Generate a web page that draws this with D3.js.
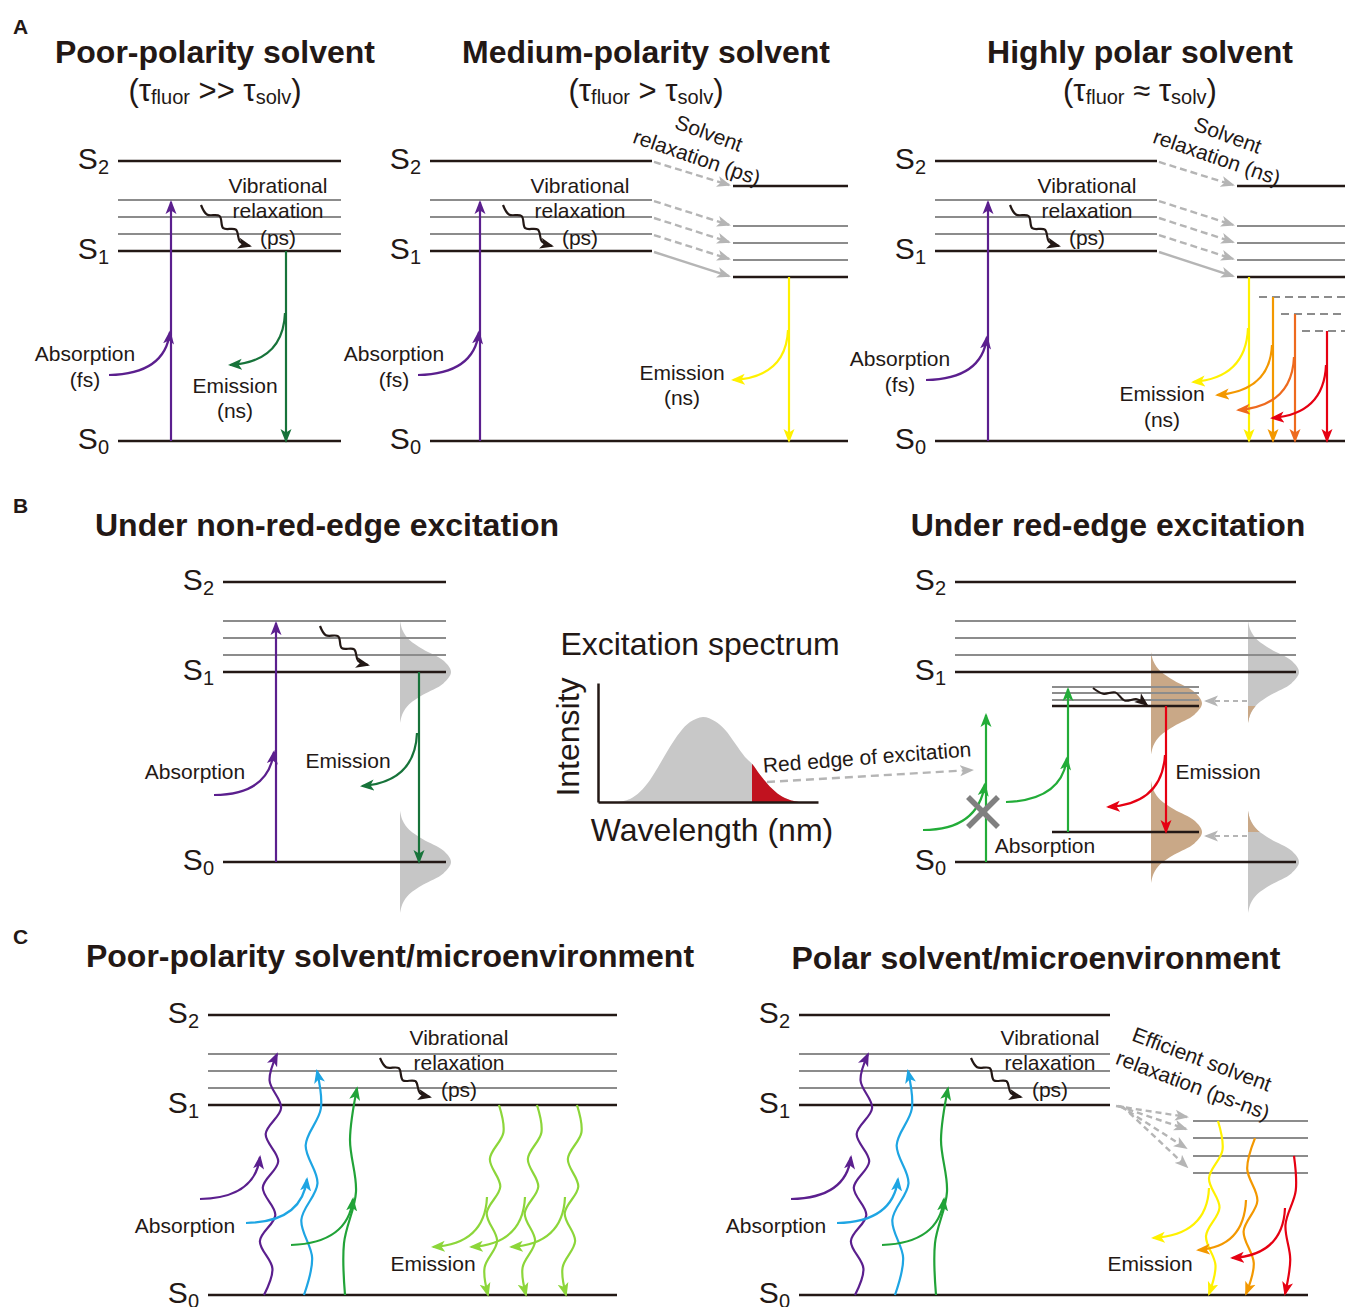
<!DOCTYPE html>
<html>
<head>
<meta charset="utf-8">
<script src="https://cdn.jsdelivr.net/npm/d3@7"></script>
<style>
  body { margin: 0; background: #fff; }
  svg { display: block; font-family: "Liberation Sans", Arial, Helvetica, sans-serif; }
</style>
</head>
<body>
<script>
// ---- energies (S0 = 0, S1 = 1) ----
const levelNames = ['0', '1', '2']
const levelEnergy = [0, 1, 1.474]
const vibEnergy = [1.089, 1.179, 1.268]
// solvent relaxed manifold, panel A (S1', vib', vib', vib', S2')
const relaxedEnergy = [0.863, 0.953, 1.042, 1.132, 1.342]
// emitting states in highly polar solvent
const polarEmitEnergy = [0.863, 0.758, 0.668, 0.579]
const polarEmitColors = ['#fff100', '#f39800', '#ee6a1e', '#e60012']
// red edge subpopulation (panel B)
const redEdgeUpper = [0.821, 0.853, 0.889, 0.921]
const redEdgeLower = 0.158
const redEdgeBlocked = 0.774
const brownCenters = [0.835, 0.158]
// panel C
const absColorsC = ['#5b1f8e', '#1ea5e3', '#21a338']
const absTargetC = [1.268, 1.179, 1.089]
const relaxedC = [0.916, 0.826, 0.732, 0.642]
const emitC = [0.916, 0.826, 0.732]
const emitCColors = ['#fff100', '#f39800', '#e60012']

// excitation spectrum (arbitrary wavelength units)
const wavelength = [20, 32, 42, 52, 62, 72, 82, 92, 105, 117, 127, 137, 147, 154, 162, 172, 182, 192, 202]
const intensity = [0, 0.035, 0.12, 0.26, 0.45, 0.65, 0.82, 0.94, 1, 0.95, 0.85, 0.69, 0.53, 0.45, 0.32, 0.18, 0.08, 0.025, 0]
const redEdgeFrom = 154

// population distribution profile
const distOffset = [-0.27, -0.22, -0.17, -0.12, -0.06, 0, 0.06, 0.12, 0.17, 0.22, 0.27]
const distDensity = [0, 0.05, 0.18, 0.45, 0.85, 1, 0.85, 0.45, 0.18, 0.05, 0]

// wiggles
const relaxWave = [0, 3.5, -3.5, 3.5, -3.5, 3, 0]
const absWaveC = [[0, 7, -7, 7, -7, 7, -7, 7, -6, 0], [0, 6, -7, 7, -7, 6, 0], [0, -4, 5, -4, 0]]
const emitWaveC = [0, -6, 6, -6, 6, -6, 5, 0]
const emitWaveC2 = [[0, -6, 6, -6, 6, -5, 0], [0, 6, -6, 6, -6, 0], [0, -4, 4, -3, 0]]

const W = 1345, H = 1307
const ink = '#231815'
const grey = '#8c8c8c'
const lightGrey = '#b5b5b5'
const purple = '#5b1f8e'
const LBL = 21
const TTL = 32

const svg = d3.select('body').append('svg').attr('width', W).attr('height', H)
svg.append('rect').attr('width', W).attr('height', H).attr('fill', '#fff')
const defs = svg.append('defs')

function markerFor(color) {
  const id = 'ah' + color.replace(/[^0-9a-z]/gi, '')
  if (defs.select('#' + id).empty()) {
    defs.append('marker').attr('id', id)
      .attr('viewBox', '0 -6 14 12').attr('refX', 12).attr('refY', 0)
      .attr('markerWidth', 14).attr('markerHeight', 12)
      .attr('markerUnits', 'userSpaceOnUse').attr('orient', 'auto')
      .append('path').attr('d', 'M0,-5.5L14,0L0,5.5L3.5,0Z').attr('fill', color)
  }
  return `url(#${id})`
}

function arrow(g, x1, y1, x2, y2, color, w = 2.2, dash = null) {
  g.append('line').attr('x1', x1).attr('y1', y1).attr('x2', x2).attr('y2', y2)
    .attr('stroke', color).attr('stroke-width', w).attr('stroke-dasharray', dash)
    .attr('marker-end', markerFor(color))
}

function curved(g, p0, c, p1, color, w = 2.2) {
  g.append('path').attr('d', `M${p0}Q${c} ${p1}`)
    .attr('fill', 'none').attr('stroke', color).attr('stroke-width', w)
    .attr('marker-end', markerFor(color))
}

function wavy(g, p0, p1, offs, color, w = 2.2) {
  const dx = p1[0] - p0[0], dy = p1[1] - p0[1], len = Math.hypot(dx, dy)
  const nx = -dy / len, ny = dx / len
  const pts = offs.map((o, i) => {
    const t = i / (offs.length - 1)
    return [p0[0] + dx * t + nx * o, p0[1] + dy * t + ny * o]
  })
  g.append('path').attr('d', d3.line().curve(d3.curveCatmullRom)(pts))
    .attr('fill', 'none').attr('stroke', color).attr('stroke-width', w)
    .attr('marker-end', markerFor(color))
}

function level(g, x1, x2, y, main, dash = null) {
  g.append('line').attr('x1', x1).attr('x2', x2).attr('y1', y).attr('y2', y)
    .attr('stroke', main ? ink : grey).attr('stroke-width', main ? 2.6 : 2)
    .attr('stroke-dasharray', dash)
}

function sLabel(g, x, y, n) {
  const t = g.append('text').attr('x', x).attr('y', y + 8).attr('text-anchor', 'end')
    .attr('font-size', 30).attr('fill', ink)
  t.append('tspan').text('S')
  t.append('tspan').attr('font-size', 20).attr('dy', 5).text(n)
}

// y is the visual centre of the text
function txt(g, x, y, s, size = LBL, opts = {}) {
  return g.append('text').attr('x', x).attr('y', y).attr('font-size', size)
    .attr('dominant-baseline', 'central')
    .attr('text-anchor', opts.anchor || 'middle').attr('fill', ink)
    .attr('font-weight', opts.bold ? 'bold' : null)
    .attr('transform', opts.rot ? `rotate(${opts.rot},${x},${y})` : null)
    .text(s)
}

// standard stack of levels with labels
function ladder(g, y, x0, x1, s0End, labelX) {
  level(g, x0, x1, y(levelEnergy[2]), true)
  vibEnergy.forEach(e => level(g, x0, x1, y(e), false))
  level(g, x0, x1, y(levelEnergy[1]), true)
  level(g, x0, s0End, y(levelEnergy[0]), true)
  levelNames.forEach((n, i) => sLabel(g, labelX, y(levelEnergy[i]), n))
}

function vibText(g, cx, top) {
  txt(g, cx, top, 'Vibrational')
  txt(g, cx, top + 25, 'relaxation')
  txt(g, cx, top + 52, '(ps)')
}

function distribution(g, xLeft, y, center, fill, clipId) {
  const xw = d3.scaleLinear().domain([0, 1]).range([xLeft, xLeft + 51])
  const area = d3.area().curve(d3.curveCatmullRom)
    .y((d, i) => y(center + distOffset[i]))
    .x0(xLeft)
    .x1(d => xw(d))
  g.append('path').attr('d', area(distDensity)).attr('fill', fill)
    .attr('clip-path', clipId ? `url(#${clipId})` : null)
}

// ---- panel letters ----
txt(svg, 13, 26, 'A', 21, { bold: true, anchor: 'start' })
txt(svg, 13, 505, 'B', 21, { bold: true, anchor: 'start' })
txt(svg, 13, 936, 'C', 21, { bold: true, anchor: 'start' })

// ================= PANEL A =================
const yA = d3.scaleLinear().domain([0, 1]).range([441, 251])
const gA = svg.append('g')
const aTitles = ['Poor-polarity solvent', 'Medium-polarity solvent', 'Highly polar solvent']
const aRelations = [' >> ', ' > ', ' ≈ ']
const aCols = [
  { x0: 118, x1: 341, s0: 341, lab: 109, abs: 171, cx: 215, vib: 278, absTxt: 85, absY: 353 },
  { x0: 430, x1: 652, s0: 848, lab: 421, abs: 480, cx: 646, vib: 580, absTxt: 394, absY: 353, rx0: 733, rx1: 848 },
  { x0: 935, x1: 1157, s0: 1345, lab: 926, abs: 988, cx: 1140, vib: 1087, absTxt: 900, absY: 358, rx0: 1237, rx1: 1345 }
]

aCols.forEach((c, k) => {
  txt(gA, c.cx, 52, aTitles[k], TTL, { bold: true })
  const sub = gA.append('text').attr('x', c.cx).attr('y', 101).attr('text-anchor', 'middle')
    .attr('font-size', 31).attr('fill', ink)
  sub.append('tspan').text('(τ')
  sub.append('tspan').attr('font-size', 20).attr('dy', 3).text('fluor')
  sub.append('tspan').attr('dy', -3).text(aRelations[k] + 'τ')
  sub.append('tspan').attr('font-size', 20).attr('dy', 3).text('solv')
  sub.append('tspan').attr('dy', -3).text(')')

  ladder(gA, yA, c.x0, c.x1, c.s0, c.lab)
  vibText(gA, c.vib, 185)
  wavy(gA, [c.vib - 77, 205], [c.vib - 28, 246], relaxWave, ink, 2.2)

  // absorption
  arrow(gA, c.abs, yA(0), c.abs, yA(vibEnergy[2]) + 2, purple)
  curved(gA, [c.abs - 62, c.absY + 22], [c.abs - 6, c.absY + 21], [c.abs - 1, c.absY - 21], purple)
  txt(gA, c.absTxt, c.absY, 'Absorption')
  txt(gA, c.absTxt, c.absY + 26, '(fs)')

  if (c.rx0) {
    // solvent-relaxed manifold
    relaxedEnergy.forEach((e, i) => level(gA, c.rx0, c.rx1, yA(e), i === 0 || i === 4))
    const orig = [levelEnergy[1], ...vibEnergy, levelEnergy[2]]
    orig.forEach((e, i) => {
      arrow(gA, c.x1 + 2, yA(e) + 1, c.rx0 - 4, yA(relaxedEnergy[i]) - 1, lightGrey, 2.4, i === 0 ? null : '7,4')
    })
  }
})

// A1 emission
const green = '#17733a'
arrow(gA, 286, yA(1), 286, yA(0), green)
curved(gA, [285, 313], [283, 362], [230, 365], green)
txt(gA, 235, 385, 'Emission')
txt(gA, 235, 410, '(ns)')

// A2 emission + solvent relaxation text
arrow(gA, 789, yA(relaxedEnergy[0]), 789, yA(0), '#fff100')
curved(gA, [788, 330], [786, 377], [733, 380], '#fff100')
txt(gA, 682, 372, 'Emission')
txt(gA, 682, 397, '(ns)')
txt(gA, 709, 133, 'Solvent', LBL, { rot: 20 })
txt(gA, 697, 157, 'relaxation (ps)', LBL, { rot: 19 })

// A3 emission cascade
const a3x = [1249, 1273, 1295, 1327]
const a3dash = [null, 1259, 1281, 1302]
const a3curve = [[328, 1193, 382], [345, 1217, 395], [357, 1238, 410], [365, 1272, 418]]
polarEmitEnergy.forEach((e, i) => {
  if (a3dash[i]) level(gA, a3dash[i], 1345, yA(e), false, '8,5')
})
polarEmitEnergy.forEach((e, i) => {
  const col = polarEmitColors[i]
  arrow(gA, a3x[i], yA(e), a3x[i], yA(0), col)
  const [cy0, ex, ey] = a3curve[i]
  curved(gA, [a3x[i] - 1, cy0], [a3x[i] - 3, ey - 4], [ex, ey], col)
})
txt(gA, 1162, 393, 'Emission')
txt(gA, 1162, 419, '(ns)')
txt(gA, 1228, 135, 'Solvent', LBL, { rot: 20 })
txt(gA, 1217, 157, 'relaxation (ns)', LBL, { rot: 19 })

// ================= PANEL B =================
const yB = d3.scaleLinear().domain([0, 1]).range([862, 672])
const gB = svg.append('g')
const brown = '#c9a887'
const distGrey = '#c6c6c6'

// B left
txt(gB, 327, 525, 'Under non-red-edge excitation', TTL, { bold: true })
distribution(gB, 400, yB, levelEnergy[1], distGrey)
distribution(gB, 400, yB, levelEnergy[0], distGrey)
ladder(gB, yB, 223, 446, 446, 214)
arrow(gB, 276, yB(0), 276, yB(vibEnergy[2]) + 2, purple)
curved(gB, [214, 795], [268, 795], [274, 752], purple)
txt(gB, 195, 771, 'Absorption')
wavy(gB, [320, 626], [368, 665], relaxWave, ink, 2.2)
arrow(gB, 419, yB(1), 419, yB(0), green)
curved(gB, [417, 733], [415, 782], [362, 786], green)
txt(gB, 348, 760, 'Emission')

// B middle: excitation spectrum
const xS = d3.scaleLinear().domain([0, 220]).range([598, 818])
const yS = d3.scaleLinear().domain([0, 1.4]).range([802, 683])
defs.append('clipPath').attr('id', 'redclip').append('rect')
  .attr('x', xS(redEdgeFrom)).attr('y', 600).attr('width', 200).attr('height', 250)
const specArea = d3.area().curve(d3.curveCatmullRom)
  .x((d, i) => xS(wavelength[i])).y0(yS(0)).y1(d => yS(d))
gB.append('path').attr('d', specArea(intensity)).attr('fill', '#c8c8c8')
gB.append('path').attr('d', specArea(intensity)).attr('fill', '#c1121f').attr('clip-path', 'url(#redclip)')
gB.append('g').attr('transform', `translate(0,${yS(0)})`)
  .call(d3.axisBottom(xS).tickValues([]).tickSizeOuter(0))
  .call(a => a.select('.domain').attr('stroke', ink).attr('stroke-width', 2.5))
gB.append('g').attr('transform', `translate(${xS(0)},0)`)
  .call(d3.axisLeft(yS).tickValues([]).tickSizeOuter(0))
  .call(a => a.select('.domain').attr('stroke', ink).attr('stroke-width', 2.5))
txt(gB, 700, 644, 'Excitation spectrum', 32)
txt(gB, 712, 830, 'Wavelength (nm)', 32)
txt(gB, 568, 737, 'Intensity', 32, { rot: -90 })
txt(gB, 867, 757, 'Red edge of excitation', 21, { rot: -4.5 })
arrow(gB, 767, 782, 972, 770, lightGrey, 2.4, '8,5')

// B right
txt(gB, 1108, 525, 'Under red-edge excitation', TTL, { bold: true })
defs.append('clipPath').attr('id', 'tailUp').append('rect')
  .attr('x', 1200).attr('y', yB(redEdgeUpper[0])).attr('width', 120).attr('height', 60)
defs.append('clipPath').attr('id', 'tailLow').append('rect')
  .attr('x', 1200).attr('y', 790).attr('width', 120).attr('height', yB(redEdgeLower) - 790)
distribution(gB, 1248, yB, levelEnergy[1], distGrey)
distribution(gB, 1248, yB, levelEnergy[1], brown, 'tailUp')
distribution(gB, 1248, yB, levelEnergy[0], distGrey)
distribution(gB, 1248, yB, levelEnergy[0], brown, 'tailLow')
distribution(gB, 1151, yB, brownCenters[0], brown)
distribution(gB, 1151, yB, brownCenters[1], brown)
ladder(gB, yB, 955, 1296, 1296, 946)
redEdgeUpper.forEach((e, i) => level(gB, 1052, 1199, yB(e), i === 0))
level(gB, 1052, 1199, yB(redEdgeLower), true)
arrow(gB, 1247, yB(redEdgeUpper[0]) - 5, 1206, yB(redEdgeUpper[0]) - 5, lightGrey, 1.8, '5,4')
arrow(gB, 1247, yB(redEdgeLower) + 4, 1206, yB(redEdgeLower) + 4, lightGrey, 1.8, '5,4')

const green2 = '#22ac38'
arrow(gB, 986, yB(0), 986, yB(redEdgeBlocked), green2)
curved(gB, [923, 830], [978, 830], [985, 784], green2)
gB.append('line').attr('x1', 968).attr('y1', 797).attr('x2', 998).attr('y2', 827)
  .attr('stroke', '#808080').attr('stroke-width', 5.5)
gB.append('line').attr('x1', 998).attr('y1', 797).attr('x2', 968).attr('y2', 827)
  .attr('stroke', '#808080').attr('stroke-width', 5.5)
arrow(gB, 1068, yB(redEdgeLower), 1068, yB(redEdgeUpper[3]) + 2, green2)
curved(gB, [1006, 802], [1062, 800], [1067, 758], green2)
wavy(gB, [1093, 688], [1147, 705], [0, 2.5, -2.5, 2.5, -2.5, 0], ink, 2)
arrow(gB, 1166, yB(redEdgeUpper[0]), 1166, yB(redEdgeLower), '#e60012')
curved(gB, [1165, 755], [1162, 804], [1108, 807], '#e60012')
txt(gB, 1218, 771, 'Emission')
txt(gB, 1045, 845, 'Absorption')

// ================= PANEL C =================
const yC = d3.scaleLinear().domain([0, 1]).range([1295, 1105])
const gC = svg.append('g')
txt(gC, 390, 956, 'Poor-polarity solvent/microenvironment', TTL, { bold: true })
txt(gC, 1036, 958, 'Polar solvent/microenvironment', TTL, { bold: true })

const absBaseC = [264, 304, 345]
const absTipDx = [13, 13, 12]
const absCurveC = [[[200, 1199], [255, 1198], [260, 1157]], [[246, 1223], [302, 1222], [307, 1179]], [[291, 1245], [348, 1243], [353, 1199]]]

;[0, 591].forEach(off => {
  ladder(gC, yC, 208 + off, off ? 1110 : 617, off ? 1308 : 617, 199 + off)
  vibText(gC, 459 + off, 1037)
  wavy(gC, [380 + off, 1058], [430 + off, 1097], relaxWave, ink, 2.2)
  absColorsC.forEach((col, i) => {
    wavy(gC, [absBaseC[i] + off, yC(0)], [absBaseC[i] + absTipDx[i] + off, yC(absTargetC[i])], absWaveC[i], col)
    const [p0, cc, p1] = absCurveC[i]
    curved(gC, [p0[0] + off, p0[1]], [cc[0] + off, cc[1]], [p1[0] + off, p1[1]], col)
  })
  txt(gC, 185 + off, 1225, 'Absorption')
})

// C left emission
const limeGreen = '#8cd63a'
const emitTopC = [499, 537, 577]
emitTopC.forEach((x, i) => {
  wavy(gC, [x, yC(1)], [x - 11, yC(0)], emitWaveC, limeGreen)
  curved(gC, [x - 12, 1197], [x - 14, 1244], [x - 66, 1247], limeGreen)
})
txt(gC, 433, 1263, 'Emission')

// C right relaxation + emission
relaxedC.forEach(e => level(gC, 1193, 1308, yC(e), false))
const fanEnds = [[1187, 1117], [1186, 1129], [1186, 1148], [1187, 1167]]
fanEnds.forEach((p, i) => arrow(gC, 1116 + i * 2, 1106, p[0], p[1], lightGrey, 2.4, '6,4'))
const emitXC = [1218, 1255, 1294]
const emitCurveC = [[1188, 1153, 1238], [1200, 1198, 1250], [1208, 1232, 1258]]
emitC.forEach((e, i) => {
  const col = emitCColors[i]
  wavy(gC, [emitXC[i], yC(e)], [emitXC[i] - 9, yC(0) - 1], emitWaveC2[i], col)
  const [cy0, ex, ey] = emitCurveC[i]
  curved(gC, [emitXC[i] - 9, cy0], [emitXC[i] - 11, ey - 3], [ex, ey], col)
})
txt(gC, 1150, 1263, 'Emission')
txt(gC, 1202, 1059, 'Efficient solvent', LBL, { rot: 20.5 })
txt(gC, 1193, 1085, 'relaxation (ps-ns)', LBL, { rot: 20.5 })
</script>
</body>
</html>
